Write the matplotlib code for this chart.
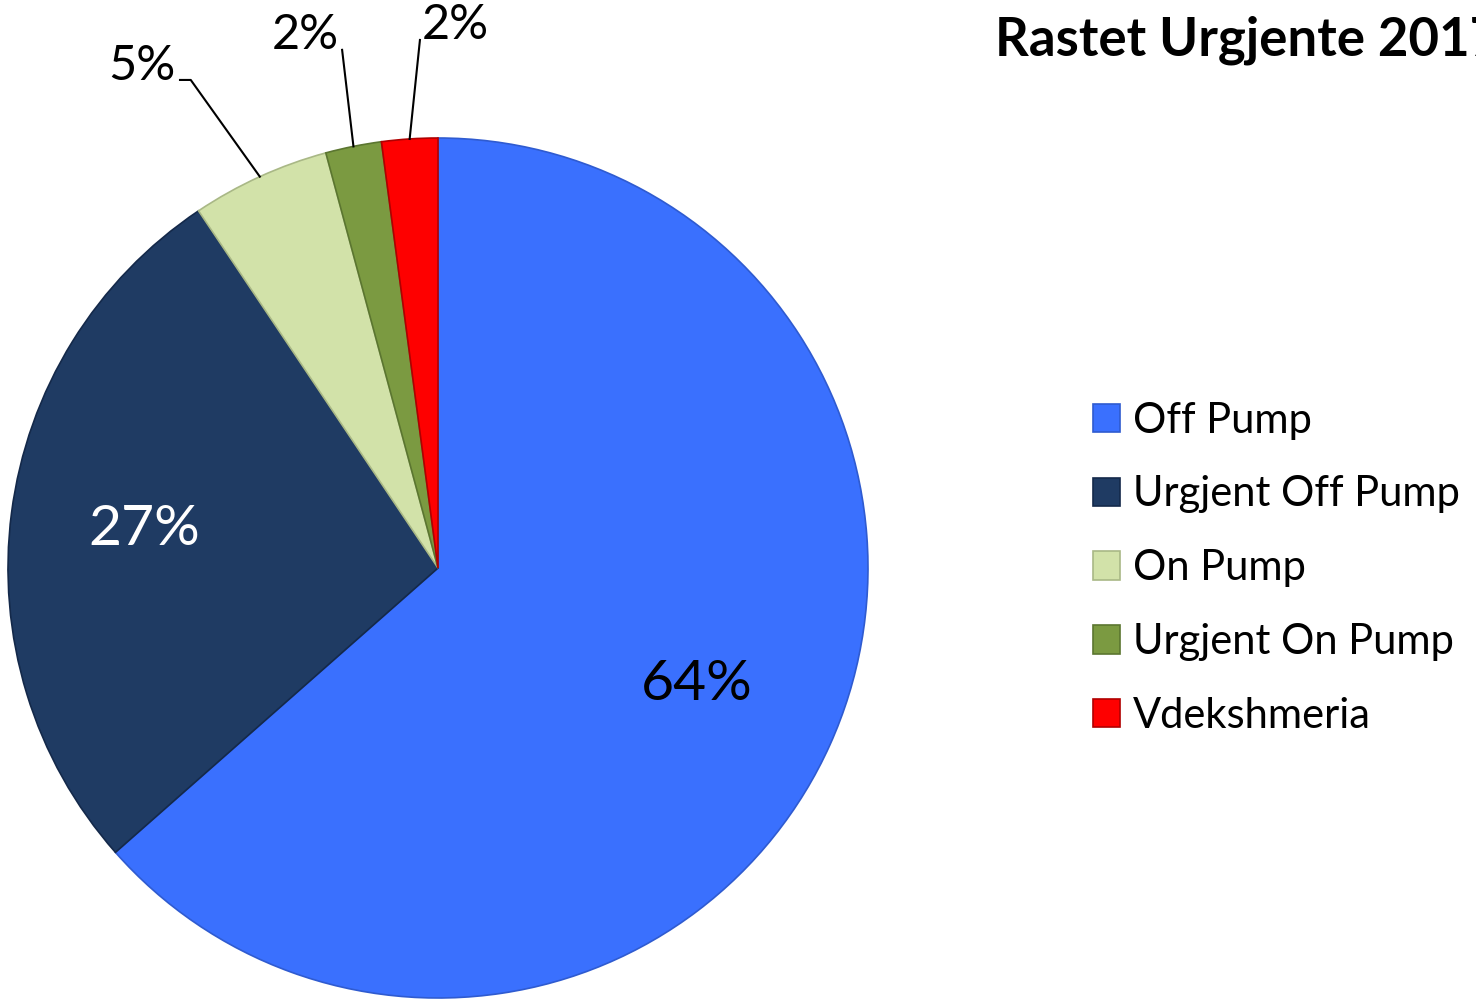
import matplotlib.pyplot as plt
import numpy as np

categories = ["Off Pump", "Urgjent Off Pump", "On Pump", "Urgjent On Pump", "Vdekshmeria"]
values = [63.5, 27.1, 5.2, 2.1, 2.1]
pct_labels = ["64%", "27%", "5%", "2%", "2%"]
title = "Rastet Urgjente 2017"

colors = ["#3A70FE", "#1F3B63", "#D2E2A9", "#7B9A41", "#FE0000"]
edges = ["#2F5BD0", "#14294A", "#A9B886", "#5B7630", "#B00000"]

plt.rcParams['font.family'] = ['Lato', 'DejaVu Sans']

fig = plt.figure(figsize=(14.76, 10.01), dpi=100)
W, H = 1476, 1001
cx, cy, r = 438, 568, 430
ax = fig.add_axes([(cx - r) / W, (H - cy - r) / H, 2 * r / W, 2 * r / H])

wedges, _ = ax.pie(values, colors=colors, startangle=90, counterclock=False,
                   radius=1, wedgeprops=dict(linewidth=1.2))
for w, ec in zip(wedges, edges):
    w.set_edgecolor(ec)
ax.set_xlim(-1, 1)
ax.set_ylim(-1, 1)
ax.set_aspect('equal')
ax.axis('off')

# inside labels for the big slices
inside = {0: (0.66, 'black'), 1: (0.69, 'white')}
# outside labels: text position (data units) and the elbow point of the leader
outside = {2: ((-0.688, 1.167), [(-0.600, 1.135), (-0.575, 1.135)]),
           3: ((-0.309, 1.240), [(-0.223, 1.205)]),
           4: ((0.040, 1.263), [(-0.042, 1.228)])}

for i, w in enumerate(wedges):
    mid = np.deg2rad((w.theta1 + w.theta2) / 2)
    if i in inside:
        d, col = inside[i]
        ax.text(d * np.cos(mid), d * np.sin(mid), pct_labels[i], color=col,
                fontsize=41, ha='center', va='center')
    else:
        pos, pts = outside[i]
        ax.text(pos[0], pos[1], pct_labels[i], fontsize=35, ha='center',
                va='center', clip_on=False)
        xs = [p[0] for p in pts] + [np.cos(mid)]
        ys = [p[1] for p in pts] + [np.sin(mid)]
        ax.plot(xs, ys, color='black', lw=1.5, clip_on=False)

fig.legend(wedges, categories, loc='upper left',
           bbox_to_anchor=(1055 / W, 1 - 364 / H), frameon=False,
           fontsize=30, handlelength=0.67, handleheight=0.67,
           handletextpad=0.3, labelspacing=0.86)

fig.text(995 / W, 1 - 40 / H, title, fontsize=38, fontweight='bold',
         ha='left', va='center')

fig.savefig("out.png", dpi=100)
